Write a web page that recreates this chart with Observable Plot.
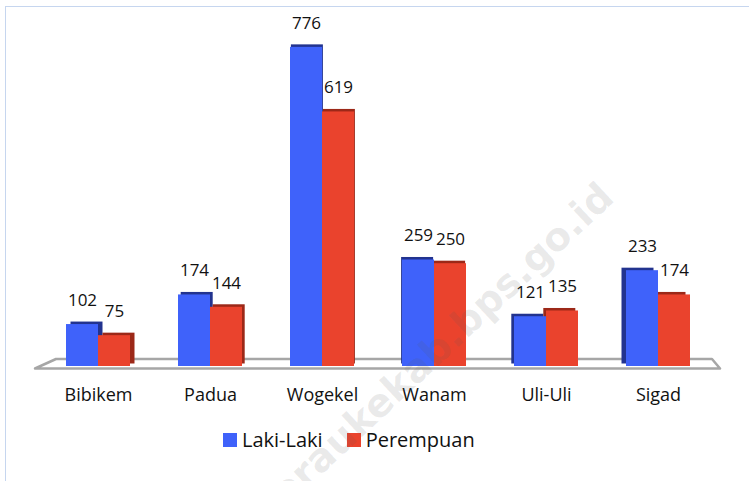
<!DOCTYPE html>
<html>
<head>
<meta charset="utf-8">
<script src="https://cdn.jsdelivr.net/npm/d3@7"></script>
<script src="https://cdn.jsdelivr.net/npm/@observablehq/plot@0.6"></script>
<style>
  html, body { margin: 0; padding: 0; background: #fff; }
  body { width: 749px; height: 481px; overflow: hidden; position: relative; font-family: "Open Sans", sans-serif; }
  #frame { position: absolute; left: 5px; top: 6px; width: 800px; height: 520px; border-left: 1.5px solid #c6d6ef; border-top: 1.5px solid #c6d6ef; }
  #chart { position: absolute; left: 0; top: 0; }
  #legend { position: absolute; left: 223px; top: 426px; display: flex; align-items: center; font-size: 20px; color: #111; }
  #legend .sw { width: 14px; height: 14px; display: inline-block; margin-right: 5px; }
  #legend .item { display: flex; align-items: center; margin-right: 24px; }
  #wm { position: absolute; left: 0; top: 0; pointer-events: none; }
</style>
</head>
<body>
<div id="frame"></div>
<div id="chart"></div>
<div id="legend"></div>
<svg id="wm" width="749" height="481">
  <text x="616" y="200" text-anchor="end" transform="rotate(-43 616 200)"
        font-family="DejaVu Sans, sans-serif" font-weight="bold" font-size="39"
        fill="rgba(90,90,90,0.13)">meraukekab.bps.go.id</text>
</svg>
<script>
const categories = ["Bibikem", "Padua", "Wogekel", "Wanam", "Uli-Uli", "Sigad"];
const series = ["Laki-Laki", "Perempuan"];
const lakiLaki = [102, 174, 776, 259, 121, 233];
const perempuan = [75, 144, 619, 250, 135, 174];

const frontColors = {"Laki-Laki": "#3f62fa", "Perempuan": "#ea432d"};
const sideColors = {"Laki-Laki": "#22338f", "Perempuan": "#9c2818"};

const data = [];
categories.forEach((c, i) => {
  data.push({cat: c, s: series[0], v: lakiLaki[i]});
  data.push({cat: c, s: series[1], v: perempuan[i]});
});

// perspective depth offset per category (styling only)
const depth = i => (2.5 - i) * 1.8;

const sideMarks = categories.map((c, i) =>
  Plot.barY(data.filter(d => d.cat === c), {
    fx: "cat", x: "s", y: "v",
    fill: d => sideColors[d.s],
    dx: depth(i), dy: -2.5
  })
);

const plot = Plot.plot({
  width: 749,
  height: 415,
  marginLeft: 42,
  marginRight: 35,
  marginTop: 37,
  marginBottom: 49,
  style: {fontFamily: "Open Sans, sans-serif", fontSize: "18px", color: "#111", background: "transparent", overflow: "visible"},
  fx: {domain: categories, padding: 0, axis: "bottom", tickSize: 0, tickPadding: 22, label: null},
  x: {domain: series, paddingInner: 0, paddingOuter: 0.723, axis: null},
  y: {domain: [0, 800], axis: null},
  marks: [
    ...sideMarks,
    Plot.barY(data, {fx: "cat", x: "s", y: "v", fill: d => frontColors[d.s]}),
    Plot.text(data, {fx: "cat", x: "s", y: "v", text: d => String(d.v), dy: -24, fontSize: 17, fill: "#111"})
  ]
});

// floor (3D platform) drawn from the plot's own scales
const y0 = plot.scale("y").apply(0);
const fxr = plot.scale("fx").range;
const ns = "http://www.w3.org/2000/svg";
const poly = document.createElementNS(ns, "polygon");
const pts = [
  [fxr[0] - 7, y0 + 2.5],
  [fxr[0] + 14, y0 - 7],
  [fxr[1] - 2, y0 - 7],
  [fxr[1] + 6, y0 + 2.5]
];
poly.setAttribute("points", pts.map(p => p.join(",")).join(" "));
poly.setAttribute("fill", "#ffffff");
poly.setAttribute("stroke", "#a6a6a6");
poly.setAttribute("stroke-width", "2.5");
poly.setAttribute("stroke-linejoin", "round");
const firstG = plot.querySelector("g");
plot.insertBefore(poly, firstG);

document.getElementById("chart").appendChild(plot);

const legend = document.getElementById("legend");
series.forEach(s => {
  const item = document.createElement("div");
  item.className = "item";
  const sw = document.createElement("span");
  sw.className = "sw";
  sw.style.background = frontColors[s];
  const t = document.createElement("span");
  t.textContent = s;
  item.appendChild(sw);
  item.appendChild(t);
  legend.appendChild(item);
});
</script>
</body>
</html>
